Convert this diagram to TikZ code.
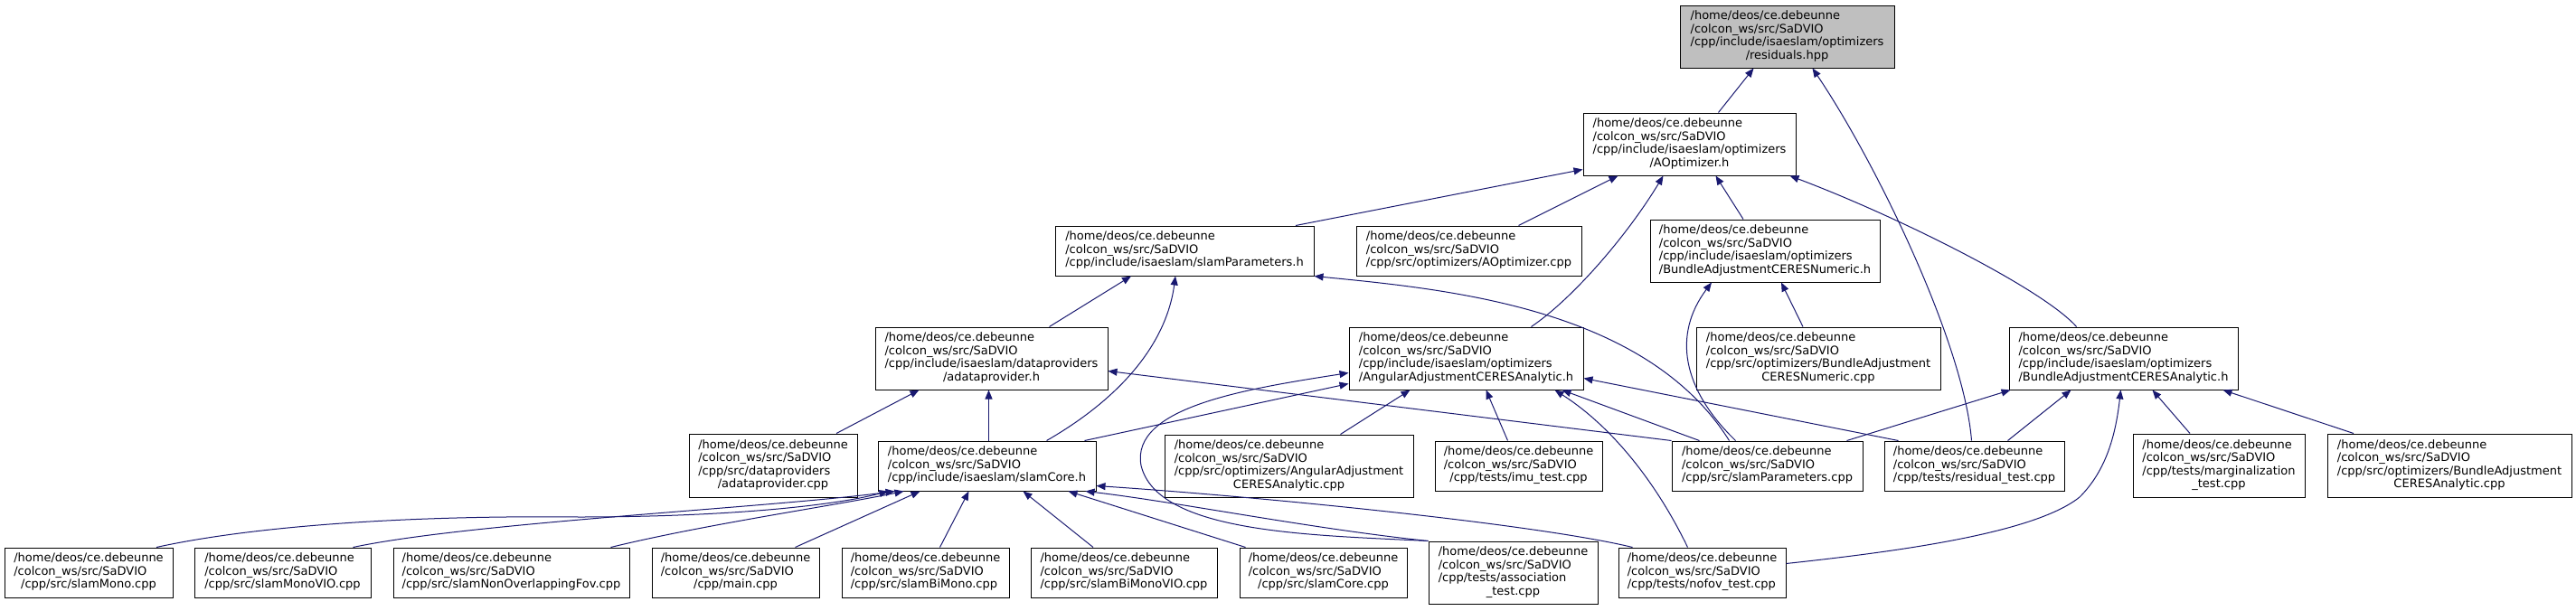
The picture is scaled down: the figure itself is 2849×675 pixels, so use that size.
\documentclass[tikz,border=0pt]{standalone}
\usepackage{fontspec}
\setmainfont{DejaVu Sans}
\usetikzlibrary{arrows.meta,calc}
\definecolor{edgeblue}{HTML}{191970}
\definecolor{rootgray}{HTML}{BFBFBF}
\newcommand{\nt}[1]{\begin{tabular}{@{}l@{}}#1\end{tabular}}
\newcommand{\cc}[1]{\multicolumn{1}{@{}c@{}}{#1}}
\newcommand{\hd}{/home/deos/ce.debeunne\\/colcon\_ws/src/SaDVIO}
\newcommand{\bx}[7][]{\node[box,#1,minimum width={(#4-#2)*0.75pt},minimum height={(#5-#3)*0.75pt}] (#6) at ({(#2+#4)/2},{(#3+#5)/2}) {\nt{#7}};}
\begin{document}
\begin{tikzpicture}[x=0.75pt,y=-0.75pt,
  box/.style={draw=black, line width=0.75pt, inner sep=0pt, font=\fontsize{9.75}{10.9}\selectfont},
  dep/.style={draw=edgeblue, line width=0.75pt, -{Triangle[length=7.5pt,width=6pt]}}]
\fill[white] (0,0) rectangle (2849,675);
\useasboundingbox (0,0) rectangle (2849,675);
% nodes
\bx[fill=rootgray]{1858}{6}{2095}{75}{res}{\hd\\/cpp/include/isaeslam/optimizers\\\cc{/residuals.hpp}}
\bx{1751}{125}{1986}{194}{aopt}{\hd\\/cpp/include/isaeslam/optimizers\\\cc{/AOptimizer.h}}
\bx{1167}{250}{1453}{305}{sp}{\hd\\/cpp/include/isaeslam/slamParameters.h}
\bx{1500}{250}{1749}{305}{aoptcpp}{\hd\\/cpp/src/optimizers/AOptimizer.cpp}
\bx{1825}{243}{2079}{312}{banh}{\hd\\/cpp/include/isaeslam/optimizers\\/BundleAdjustmentCERESNumeric.h}
\bx{968}{362}{1225}{431}{adp}{\hd\\/cpp/include/isaeslam/dataproviders\\\cc{/adataprovider.h}}
\bx{1492}{362}{1751}{431}{aah}{\hd\\/cpp/include/isaeslam/optimizers\\/AngularAdjustmentCERESAnalytic.h}
\bx{1876}{362}{2146}{431}{bancpp}{\hd\\/cpp/src/optimizers/BundleAdjustment\\\cc{CERESNumeric.cpp}}
\bx{2222}{362}{2475}{431}{baah}{\hd\\/cpp/include/isaeslam/optimizers\\/BundleAdjustmentCERESAnalytic.h}
\bx{762}{480}{948}{550}{adpcpp}{\hd\\/cpp/src/dataproviders\\\cc{/adataprovider.cpp}}
\bx{971}{488}{1212}{543}{core}{\hd\\/cpp/include/isaeslam/slamCore.h}
\bx{1288}{481}{1563}{550}{aacpp}{\hd\\/cpp/src/optimizers/AngularAdjustment\\\cc{CERESAnalytic.cpp}}
\bx{1587}{488}{1772}{543}{imu}{\hd\\\cc{/cpp/tests/imu\_test.cpp}}
\bx{1849}{488}{2060}{543}{spcpp}{\hd\\/cpp/src/slamParameters.cpp}
\bx{2084}{488}{2283}{543}{restest}{\hd\\/cpp/tests/residual\_test.cpp}
\bx{2359}{480}{2549}{550}{marg}{\hd\\/cpp/tests/marginalization\\\cc{\_test.cpp}}
\bx{2574}{480}{2844}{550}{bacpp}{\hd\\/cpp/src/optimizers/BundleAdjustment\\\cc{CERESAnalytic.cpp}}
\bx{5}{606}{191}{661}{mono}{\hd\\\cc{/cpp/src/slamMono.cpp}}
\bx{215}{606}{410}{661}{monovio}{\hd\\/cpp/src/slamMonoVIO.cpp}
\bx{435}{606}{696}{661}{nonov}{\hd\\/cpp/src/slamNonOverlappingFov.cpp}
\bx{721}{606}{906}{661}{main}{\hd\\\cc{/cpp/main.cpp}}
\bx{931}{606}{1116}{661}{bimono}{\hd\\/cpp/src/slamBiMono.cpp}
\bx{1140}{606}{1346}{661}{bimonovio}{\hd\\/cpp/src/slamBiMonoVIO.cpp}
\bx{1371}{606}{1556}{661}{corecpp}{\hd\\\cc{/cpp/src/slamCore.cpp}}
\bx{1580}{599}{1767}{668}{assoc}{\hd\\/cpp/tests/association\\\cc{\_test.cpp}}
\bx{1790}{606}{1975}{661}{nofov}{\hd\\/cpp/tests/nofov\_test.cpp}
% edges
\draw[dep] ($(aopt.north)+(32,0)$) -- ($(res.south)+(-37,0)$);
\draw[dep] ($(restest.north)+(-3,0)$) .. controls (2172,380) and (2075,180) .. ($(res.south)+(28,0)$);
\draw[dep] ($(sp.north)+(123,0)$) -- ($(aopt.west)+(0,28)$);
\draw[dep] ($(aoptcpp.north)+(55,0)$) -- ($(aopt.south)+(-79,0)$);
\draw[dep] ($(aah.north)+(72,0)$) .. controls (1740,330) and (1800,260) .. ($(aopt.south)+(-29,0)$);
\draw[dep] ($(banh.north)+(-24,0)$) -- ($(aopt.south)+(29,0)$);
\draw[dep] ($(baah.north)+(-52,0)$) .. controls (2260,320) and (2100,240) .. ($(aopt.south east)+(-7,0)$);
\draw[dep] ($(adp.north)+(64,0)$) -- ($(sp.south)+(-59,0)$);
\draw[dep] ($(core.north)+(66,0)$) .. controls (1240,440) and (1290,380) .. ($(sp.south)+(-10,0)$);
\draw[dep] ($(spcpp.north)+(-42,0)$) .. controls (1820,340) and (1600,320) .. (sp.south east);
\draw[dep] ($(adpcpp.north)+(70,0)$) -- ($(adp.south)+(-80,0)$);
\draw[dep] ($(core.north)+(2,0)$) -- ($(adp.south)+(-3,0)$);
\draw[dep] (spcpp.north west) -- ($(adp.east)+(0,14)$);
\draw[dep] ($(core.north)+(108,0)$) -- ($(aah.west)+(0,28)$);
\draw[dep] (assoc.north west) .. controls (1450,592) and (1280,590) .. (1262,515) .. controls (1250,450) and (1380,430) .. ($(aah.west)+(0,16)$);
\draw[dep] ($(aacpp.north)+(57,0)$) -- ($(aah.south)+(-62,0)$);
\draw[dep] ($(imu.north)+(-12,0)$) -- ($(aah.south)+(22,0)$);
\draw[dep] ($(spcpp.north)+(-75,0)$) -- ($(aah.south)+(106,0)$);
\draw[dep] ($(nofov.north)+(-16,0)$) .. controls (1830,530) and (1780,470) .. ($(aah.south)+(98,0)$);
\draw[dep] ($(restest.north)+(-84,0)$) -- ($(aah.east)+(0,22)$);
\draw[dep] ($(spcpp.north)+(-35,0)$) .. controls (1860,430) and (1850,370) .. ($(banh.south)+(-59,0)$);
\draw[dep] ($(bancpp.north)+(-17,0)$) -- ($(banh.south)+(18,0)$);
\draw[dep] ($(spcpp.north)+(88,0)$) -- ($(baah.south west)+(2,0)$);
\draw[dep] ($(restest.north)+(37,0)$) -- ($(baah.south)+(-58,0)$);
\draw[dep] ($(nofov.east)+(0,-10)$) .. controls (2100,610) and (2250,590) .. (2300,550) .. controls (2330,520) and (2340,480) .. ($(baah.south)+(-3,0)$);
\draw[dep] ($(marg.north)+(-32,0)$) -- ($(baah.south)+(32,0)$);
\draw[dep] ($(bacpp.north)+(-106,0)$) -- ($(baah.south)+(110,0)$);
\draw[dep] ($(mono.north)+(75,0)$) .. controls (280,582) and (450,570) .. (640,572) .. controls (800,572) and (920,560) .. ($(core.south west)+(12,0)$);
\draw[dep] ($(monovio.north)+(78,0)$) .. controls (520,578) and (850,562) .. ($(core.south west)+(19,0)$);
\draw[dep] ($(nonov.north)+(110,0)$) .. controls (780,580) and (920,560) .. ($(core.south west)+(29,0)$);
\draw[dep] ($(main.north)+(66,0)$) -- ($(core.south)+(-74,0)$);
\draw[dep] ($(bimono.north)+(16,0)$) -- ($(core.south)+(-20,0)$);
\draw[dep] ($(bimonovio.north)+(-34,0)$) -- ($(core.south)+(40,0)$);
\draw[dep] ($(corecpp.north)+(-86,0)$) -- ($(core.south)+(90,0)$);
\draw[dep] (assoc.north west) .. controls (1450,585) and (1300,555) .. ($(core.south east)+(-12,0)$);
\draw[dep] ($(nofov.north)+(-77,0)$) .. controls (1700,580) and (1400,550) .. ($(core.east)+(0,22)$);
\end{tikzpicture}
\end{document}
